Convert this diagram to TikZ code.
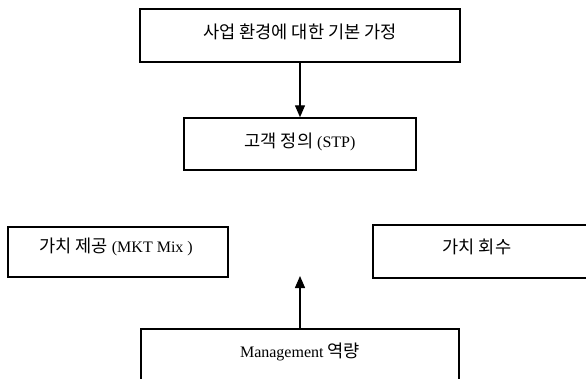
\documentclass[tikz,border=0pt]{standalone}
\usepackage{fontspec}
\setmainfont{Liberation Serif}
\newfontfamily\cjk[Scale=1.1]{Noto Sans CJK KR}
\usetikzlibrary{arrows.meta}
\tikzset{
  boxstyle/.style={draw=black, line width=1.5pt, inner sep=0pt},
  txt/.style={inner sep=0pt, font=\fontsize{16}{19}\selectfont},
  arr/.style={line width=1.4pt, -{Triangle[length=12pt,width=10pt]}}
}
\begin{document}
\begin{tikzpicture}[x=1pt,y=-1pt]
\useasboundingbox (0,0) rectangle (586,378);
\clip (0,0) rectangle (586,378);
\fill[white] (0,0) rectangle (586,378);
% boxes
\node[boxstyle, minimum width=320pt, minimum height=53pt] (box1) at (300,35.5) {};
\node[txt] (t1) at (300,32) {\cjk 사업 환경에 대한 기본 가정};
\node[boxstyle, minimum width=232pt, minimum height=52pt] (box2) at (300,144) {};
\node[txt] (t2) at (300,142) {{\cjk 고객 정의} (STP)};
\node[boxstyle, minimum width=220pt, minimum height=50pt] (box3) at (118,252) {};
\node[txt] (t3) at (116,247) {{\cjk 가치 제공} (MKT Mix )};
\node[boxstyle, minimum width=240pt, minimum height=53pt, anchor=north west] (box4) at (372,224) {};
\node[txt] (t4) at (477,247) {\cjk 가치 회수};
\node[boxstyle, minimum width=318pt, minimum height=80pt, anchor=north] (box5) at (300,328) {};
\node[txt] (t5) at (300,352) {Management {\cjk 역량}};
% arrows
\coordinate (tip) at (300,276);
\draw[arr] (box1.south) -- (box2.north);
\draw[arr] (box5.north) -- (tip);
\end{tikzpicture}
\end{document}
